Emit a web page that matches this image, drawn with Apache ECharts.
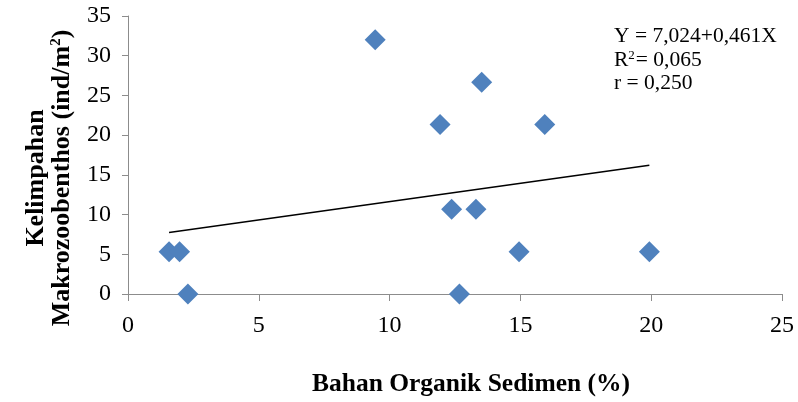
<!DOCTYPE html>
<html>
<head>
<meta charset="utf-8">
<script src="https://cdn.jsdelivr.net/npm/echarts@6/dist/echarts.min.js"></script>
<style>html,body{margin:0;padding:0;background:#fff;}#c{width:798px;height:402px;}</style>
</head>
<body>
<div id="c"></div>
<script>
var xValues = [1.57, 1.97, 2.29, 9.45, 11.93, 12.37, 12.67, 13.3, 13.52, 14.95, 15.93, 19.93];
var yValues = [5.33, 5.33, 0, 32.0, 21.33, 10.67, 0, 10.67, 26.67, 5.33, 21.33, 5.33];
var trendIntercept = 7.024;
var trendSlope = 0.461;
var annotationLines = ['Y = 7,024+0,461X', 'R{s|2}= 0,065', 'r = 0,250'];
var xTitle = 'Bahan Organik Sedimen (%)';
var yTitleLines = ['Kelimpahan', 'Makrozoobenthos (ind/m{s|2})'];

var points = xValues.map(function (x, i) { return [x, yValues[i]]; });
var xMin = Math.min.apply(null, xValues), xMax = Math.max.apply(null, xValues);
var trend = [[xMin, trendIntercept + trendSlope * xMin], [xMax, trendIntercept + trendSlope * xMax]];

var serif = '"Liberation Serif", "Times New Roman", serif';
var axisGray = '#8c8c8c';
var chart = echarts.init(document.getElementById('c'), null, {renderer: 'canvas'});
chart.setOption({
  animation: false,
  grid: {left: 128, right: 16, top: 16, bottom: 108, containLabel: false},
  xAxis: {
    type: 'value', min: 0, max: 25, interval: 5,
    splitLine: {show: false},
    axisLine: {lineStyle: {color: axisGray, width: 1}},
    axisTick: {show: true, inside: false, length: 7, lineStyle: {color: axisGray}},
    axisLabel: {color: '#000', fontFamily: serif, fontSize: 24, margin: 20}
  },
  yAxis: {
    type: 'value', min: 0, max: 35, interval: 5,
    splitLine: {show: false},
    axisLine: {show: true, lineStyle: {color: axisGray, width: 1}},
    axisTick: {show: true, inside: false, length: 6, lineStyle: {color: axisGray}},
    axisLabel: {color: '#000', fontFamily: serif, fontSize: 24, margin: 17}
  },
  graphic: [
    {
      type: 'text', x: 471, y: 384,
      style: {text: xTitle, font: 'bold 25.5px ' + serif, fill: '#000', align: 'center', verticalAlign: 'middle'}
    },
    {
      type: 'text', x: 49, y: 178, rotation: Math.PI / 2,
      style: {
        text: yTitleLines.join('\n'),
        fontFamily: serif, fontWeight: 'bold', fontSize: 26, lineHeight: 26,
        fill: '#000', align: 'center', verticalAlign: 'middle',
        rich: {s: {fontSize: 15, verticalAlign: 'top', fontWeight: 'bold', fontFamily: serif, padding: [0, 0, 9, 0]}}
      }
    },
    {
      type: 'text', x: 614, y: 25,
      style: {
        text: annotationLines.join('\n'),
        fontFamily: serif, fontSize: 21.5, lineHeight: 23.5, fill: '#000',
        rich: {s: {fontSize: 13, fontFamily: serif, padding: [0, 1, 10, 0]}}
      }
    }
  ],
  series: [
    {
      type: 'line', data: trend, symbol: 'none', silent: true,
      lineStyle: {color: '#000', width: 1.5}, z: 1
    },
    {
      type: 'scatter', data: points, symbol: 'diamond', symbolSize: [21, 21],
      itemStyle: {color: '#4F81BD', opacity: 1}, z: 2
    }
  ]
});
</script>
</body>
</html>
